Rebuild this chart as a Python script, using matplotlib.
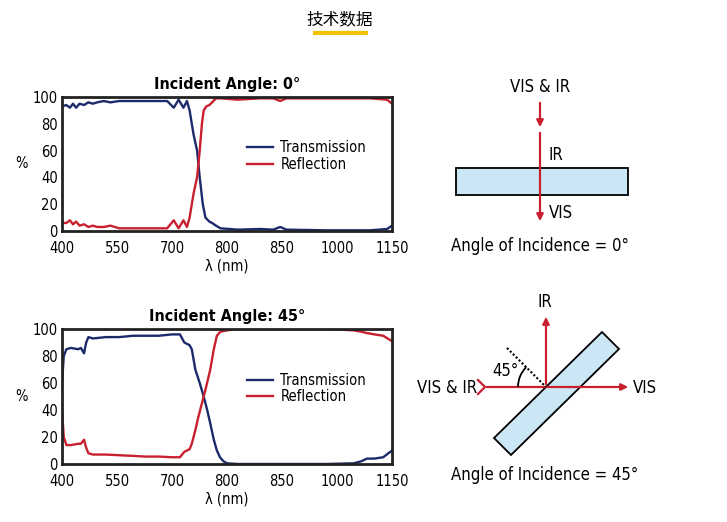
import matplotlib
matplotlib.use("Agg")
import matplotlib.pyplot as plt
from matplotlib.patches import Polygon, Rectangle, Arc
import numpy as np

FONT = ['DejaVu Sans', 'Noto Sans CJK SC']
plt.rcParams['font.family'] = FONT
plt.rcParams['font.stretch'] = 'condensed'

xtick_labels = ['400', '550', '700', '800', '850', '1000', '1150']
ytick_vals = [0, 20, 40, 60, 80, 100]

# Incident angle 0 deg (x in linear plot units 400..1150)
t0_x = [400, 410, 418, 425, 432, 440, 450, 460, 470, 480, 495, 510, 530, 550, 580, 610, 639, 654, 665, 676, 684, 690, 699, 707, 713, 720, 726, 735, 741, 750, 760, 800, 850, 880, 896, 910, 950, 1000, 1050, 1100, 1139, 1150]
t0_y = [93, 94, 92, 95, 92, 95, 94, 96, 95, 96, 97, 96, 97, 97, 97, 97, 97, 92, 98, 92, 97, 90, 72, 60, 40, 20, 10, 7, 6, 4, 2, 1, 1.5, 1, 3, 1, 0.8, 0.5, 0.5, 0.5, 1.5, 4]
r0_x = [400, 410, 418, 425, 432, 440, 450, 460, 470, 480, 495, 510, 530, 550, 580, 610, 639, 654, 665, 676, 684, 690, 699, 707, 713, 718, 722, 728, 735, 741, 750, 760, 800, 850, 880, 896, 910, 950, 1000, 1050, 1100, 1139, 1150]
r0_y = [6, 6, 8, 5, 7, 4, 5, 3, 4, 3, 3, 4, 2, 2, 2, 2, 2, 8, 2, 8, 3, 10, 28, 40, 60, 80, 90, 93, 94, 96, 99, 99, 98, 99, 99, 97, 99, 99, 99, 99, 99, 98, 95]

# Incident angle 45 deg
t45_x = [400, 404, 410, 420, 437, 443, 450, 455, 460, 470, 500, 530, 562, 590, 620, 650, 668, 678, 684, 690, 695, 703, 713, 722, 730, 737, 745, 752, 759, 767, 775, 800, 900, 1000, 1063, 1080, 1093, 1110, 1130, 1150]
t45_y = [60, 80, 85, 86, 85, 86, 82, 90, 94, 93, 94, 94, 95, 95, 95, 96, 96, 90, 89, 88, 85, 70, 60, 50, 40, 30, 18, 10, 5, 2, 0.5, 0, 0, 0, 0.5, 2, 4, 4, 5, 10]
r45_x = [400, 404, 410, 420, 437, 443, 450, 455, 460, 470, 500, 530, 562, 590, 620, 650, 668, 678, 684, 690, 695, 703, 710, 718, 726, 737, 745, 752, 760, 775, 800, 900, 1000, 1063, 1080, 1093, 1110, 1130, 1150]
r45_y = [40, 20, 14, 14, 15, 15, 18, 12, 8, 7, 7, 6.5, 6, 5.5, 5.5, 5, 5, 9, 10, 11, 15, 25, 35, 45, 55, 70, 85, 95, 98, 99, 100, 100, 100, 99, 98, 97, 96, 95, 91]

navy = '#1c2a6b'
red = '#c8202f'

fig = plt.figure(figsize=(7.27, 5.22), dpi=100)
W, H = 727, 522

d = fig.add_axes([0, 0, 1, 1], zorder=0)
d.set_xlim(0, W); d.set_ylim(H, 0); d.axis('off')

d.text(340, 20, '技术数据', ha='center', va='center', fontsize=12,
       family=['Noto Sans CJK SC', 'DejaVu Sans'])
d.plot([313, 368], [33, 33], color='#f2c200', lw=3, solid_capstyle='butt')

def plot_chart(rect, tx, ty, rx, ry, title):
    ax = fig.add_axes(rect, zorder=2)
    ax.plot(tx, ty, color=navy, lw=1.7, label='Transmission')
    ax.plot(rx, ry, color=red, lw=1.7, label='Reflection')
    ax.set_xlim(400, 1150); ax.set_ylim(0, 100)
    ax.set_xticks(np.linspace(400, 1150, 7))
    ax.set_xticklabels(xtick_labels)
    ax.set_yticks(ytick_vals)
    ax.tick_params(length=0, labelsize=10.5)
    ax.tick_params(axis='x', pad=7)
    ax.tick_params(axis='y', pad=3)
    for s in ax.spines.values():
        s.set_linewidth(2); s.set_color('#222222')
    ax.set_xlabel('λ (nm)', fontsize=10.5, labelpad=2)
    ax.set_ylabel('%', fontsize=10.5, rotation=0, labelpad=8, va='center')
    ax.set_title(title, fontsize=11.5, fontweight='bold', pad=6)
    ax.legend(loc='center left', bbox_to_anchor=(0.52, 0.56), frameon=False,
              fontsize=10.5, handlelength=1.8, handletextpad=0.5, labelspacing=0.1)
    return ax

plot_chart([62/W, 1-231/H, 330/W, 134/H], t0_x, t0_y, r0_x, r0_y, 'Incident Angle: 0°')
plot_chart([62/W, 1-464/H, 330/W, 135/H], t45_x, t45_y, r45_x, r45_y, 'Incident Angle: 45°')

glass = '#cbe7f6'
d.add_patch(Rectangle((456, 168), 172, 27, facecolor=glass, edgecolor='black', lw=1.3, zorder=1))
d.text(540, 87, 'VIS & IR', ha='center', va='center', fontsize=12)
d.annotate('', xy=(540, 130), xytext=(540, 100),
           arrowprops=dict(arrowstyle='-|>', color=red, lw=1.6, mutation_scale=10))
d.annotate('', xy=(540, 224), xytext=(540, 130),
           arrowprops=dict(arrowstyle='-|>', color=red, lw=1.6, mutation_scale=10), zorder=3)
d.text(549, 155, 'IR', ha='left', va='center', fontsize=12)
d.text(549, 213, 'VIS', ha='left', va='center', fontsize=12)
d.text(540, 246, 'Angle of Incidence = 0°', ha='center', va='center', fontsize=12)

cx, cy = 546, 387
d.add_patch(Polygon([(602, 332), (619, 349), (511, 455), (494, 438)], closed=True,
                    facecolor=glass, edgecolor='black', lw=1.3, zorder=1))
d.annotate('', xy=(cx, 314), xytext=(cx, cy),
           arrowprops=dict(arrowstyle='-|>', color=red, lw=1.6, mutation_scale=10), zorder=3)
d.annotate('', xy=(631, cy), xytext=(484, cy),
           arrowprops=dict(arrowstyle='-|>', color=red, lw=1.6, mutation_scale=10), zorder=3)
d.plot([478, 485, 478], [380, 387, 394], color=red, lw=1.6, zorder=3)
d.plot([507, cx], [348, cy], color='black', lw=1.5, ls=(0, (1, 1)), zorder=3)
d.add_patch(Arc((cx, cy), 56, 56, theta1=180, theta2=225, color='black', lw=1.3, zorder=3))
d.text(545, 302, 'IR', ha='center', va='center', fontsize=12)
d.text(633, 388, 'VIS', ha='left', va='center', fontsize=12)
d.text(477, 388, 'VIS & IR', ha='right', va='center', fontsize=12)
d.text(505, 371, '45°', ha='center', va='center', fontsize=12)
d.text(545, 475, 'Angle of Incidence = 45°', ha='center', va='center', fontsize=12)

fig.savefig('out.png', dpi=100)
